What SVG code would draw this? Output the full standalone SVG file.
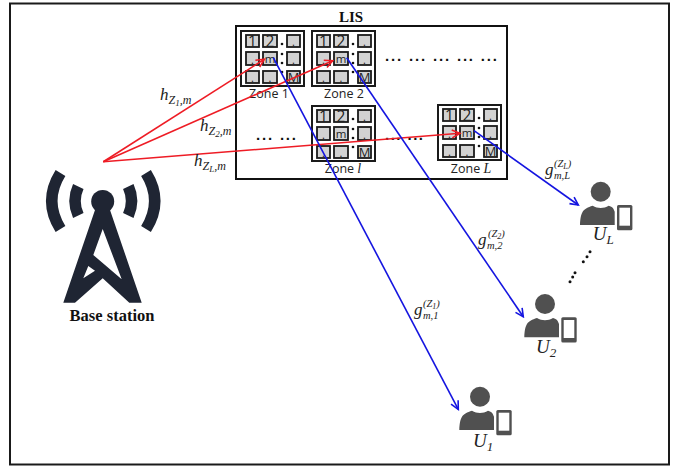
<svg xmlns="http://www.w3.org/2000/svg" width="681" height="466" viewBox="0 0 681 466">
<style>
.zf{fill:#fff;stroke:#1a1a1a;stroke-width:2}
.c{fill:#d2d2d2;stroke:#1a1a1a;stroke-width:1.8}
.ct{font-family:"Open Sans","Liberation Sans",Arial,sans-serif;fill:#222;text-anchor:middle}
.n{font-size:15.5px}.m{font-size:11.5px}.mm{font-size:13px}.d{font-size:11px}
.zd{fill:#111}
.zl{font-family:"Open Sans","Liberation Sans",sans-serif;font-size:12.5px;fill:#222;text-anchor:middle}
.i{font-family:"Liberation Serif",serif;font-style:italic}
.math{font-family:"Liberation Serif",serif;font-style:italic;fill:#222}
.s{font-size:12px}.b{font-size:17px}.ss{font-size:9px}.us{font-size:19px}.usb{font-size:13px}
.gs{font-size:10.5px}.gss{font-size:8px}
.bold{font-family:"Liberation Serif",serif;font-weight:bold;fill:#111}
.dots{font-family:"Liberation Sans",sans-serif;font-weight:bold;font-size:15px;fill:#111}
.red{fill:none;stroke:#ee1c25;stroke-width:1.6;marker-end:url(#ar)}
.blue{fill:none;stroke:#1515e0;stroke-width:1.6;marker-end:url(#ab)}
.u{fill:#505050}
.tower{fill:#1f2533}
.wave{fill:none;stroke:#1f2533;stroke-width:11.5}
</style>
<defs>
<marker id="ar" markerWidth="11" markerHeight="11" refX="9" refY="5" orient="auto" markerUnits="userSpaceOnUse"><path d="M1,1 L9,5 L1,9" fill="none" stroke="#ee1c25" stroke-width="1.6"/></marker>
<marker id="ab" markerWidth="11" markerHeight="11" refX="9" refY="5" orient="auto" markerUnits="userSpaceOnUse"><path d="M1,1 L9,5 L1,9" fill="none" stroke="#1515e0" stroke-width="1.6"/></marker>
</defs>
<rect width="681" height="466" fill="#fff"/>
<rect x="10" y="3.500" width="659" height="461" fill="none" stroke="#1a1a1a" stroke-width="2"/>
<g id="lis">
<rect x="236" y="26" width="271" height="153" fill="#fff" stroke="#111" stroke-width="2"/>
<text class="bold" x="351" y="22" font-size="15" text-anchor="middle">LIS</text>
<text class="dots" x="385" y="61" textLength="112">... ... ... ... ...</text>
<text class="dots" x="256" y="140" textLength="40">... ...</text>
<text class="dots" x="385" y="140" textLength="38">... ...</text>
</g>
<g id="zone-1" transform="translate(241,31)">
<rect class="zf" width="63" height="55"/>
<rect class="c" x="5" y="4" width="13" height="12"/><rect class="c" x="22" y="4" width="14" height="12"/><rect class="c" x="46" y="4" width="13" height="12"/>
<rect class="c" x="5" y="21" width="13" height="13"/><rect class="c" x="22" y="21" width="14" height="13"/><rect class="c" x="46" y="21" width="13" height="13"/>
<rect class="c" x="5" y="40" width="13" height="12"/><rect class="c" x="22" y="40" width="14" height="12"/><rect class="c" x="46" y="40" width="13" height="12"/>
<text class="ct n" x="11.500" y="15.500">1</text><text class="ct n" x="29" y="15.500">2</text><text class="ct d" x="52.500" y="15">.</text>
<text class="ct d" x="11.500" y="33">.</text><text class="ct m" x="29" y="31.500">m</text><text class="ct d" x="52.500" y="33">.</text>
<text class="ct d" x="11.500" y="51">.</text><text class="ct d" x="29" y="51">.</text><text class="ct mm" x="52.500" y="51">M</text>
<circle class="zd" cx="41" cy="13" r="1.300"/><circle class="zd" cx="41" cy="23" r="1.300"/><circle class="zd" cx="41" cy="32" r="1.300"/><circle class="zd" cx="41" cy="41" r="1.300"/>
<text class="zl" x="28" y="67">Zone 1</text>
</g>
<g id="zone-2" transform="translate(312,31)">
<rect class="zf" width="63" height="55"/>
<rect class="c" x="5" y="4" width="13" height="12"/><rect class="c" x="22" y="4" width="14" height="12"/><rect class="c" x="46" y="4" width="13" height="12"/>
<rect class="c" x="5" y="21" width="13" height="13"/><rect class="c" x="22" y="21" width="14" height="13"/><rect class="c" x="46" y="21" width="13" height="13"/>
<rect class="c" x="5" y="40" width="13" height="12"/><rect class="c" x="22" y="40" width="14" height="12"/><rect class="c" x="46" y="40" width="13" height="12"/>
<text class="ct n" x="11.500" y="15.500">1</text><text class="ct n" x="29" y="15.500">2</text><text class="ct d" x="52.500" y="15">.</text>
<text class="ct d" x="11.500" y="33">.</text><text class="ct m" x="29" y="31.500">m</text><text class="ct d" x="52.500" y="33">.</text>
<text class="ct d" x="11.500" y="51">.</text><text class="ct d" x="29" y="51">.</text><text class="ct mm" x="52.500" y="51">M</text>
<circle class="zd" cx="41" cy="13" r="1.300"/><circle class="zd" cx="41" cy="23" r="1.300"/><circle class="zd" cx="41" cy="32" r="1.300"/><circle class="zd" cx="41" cy="41" r="1.300"/>
<text class="zl" x="32" y="67">Zone 2</text>
</g>
<g id="zone-l" transform="translate(312,106)">
<rect class="zf" width="63" height="55"/>
<rect class="c" x="5" y="4" width="13" height="12"/><rect class="c" x="22" y="4" width="14" height="12"/><rect class="c" x="46" y="4" width="13" height="12"/>
<rect class="c" x="5" y="21" width="13" height="13"/><rect class="c" x="22" y="21" width="14" height="13"/><rect class="c" x="46" y="21" width="13" height="13"/>
<rect class="c" x="5" y="40" width="13" height="12"/><rect class="c" x="22" y="40" width="14" height="12"/><rect class="c" x="46" y="40" width="13" height="12"/>
<text class="ct n" x="11.500" y="15.500">1</text><text class="ct n" x="29" y="15.500">2</text><text class="ct d" x="52.500" y="15">.</text>
<text class="ct d" x="11.500" y="33">.</text><text class="ct m" x="29" y="31.500">m</text><text class="ct d" x="52.500" y="33">.</text>
<text class="ct d" x="11.500" y="51">.</text><text class="ct d" x="29" y="51">.</text><text class="ct mm" x="52.500" y="51">M</text>
<circle class="zd" cx="41" cy="13" r="1.300"/><circle class="zd" cx="41" cy="23" r="1.300"/><circle class="zd" cx="41" cy="32" r="1.300"/><circle class="zd" cx="41" cy="41" r="1.300"/>
<text class="zl" x="31" y="67">Zone <tspan class="i" font-size="14">l</tspan></text>
</g>
<g id="zone-L" transform="translate(438,105)">
<rect class="zf" width="63" height="55"/>
<rect class="c" x="5" y="4" width="13" height="12"/><rect class="c" x="22" y="4" width="14" height="12"/><rect class="c" x="46" y="4" width="13" height="12"/>
<rect class="c" x="5" y="21" width="13" height="13"/><rect class="c" x="22" y="21" width="14" height="13"/><rect class="c" x="46" y="21" width="13" height="13"/>
<rect class="c" x="5" y="40" width="13" height="12"/><rect class="c" x="22" y="40" width="14" height="12"/><rect class="c" x="46" y="40" width="13" height="12"/>
<text class="ct n" x="11.500" y="15.500">1</text><text class="ct n" x="29" y="15.500">2</text><text class="ct d" x="52.500" y="15">.</text>
<text class="ct d" x="11.500" y="33">.</text><text class="ct m" x="29" y="31.500">m</text><text class="ct d" x="52.500" y="33">.</text>
<text class="ct d" x="11.500" y="51">.</text><text class="ct d" x="29" y="51">.</text><text class="ct mm" x="52.500" y="51">M</text>
<circle class="zd" cx="41" cy="13" r="1.300"/><circle class="zd" cx="41" cy="23" r="1.300"/><circle class="zd" cx="41" cy="32" r="1.300"/><circle class="zd" cx="41" cy="41" r="1.300"/>
<text class="zl" x="33" y="68">Zone <tspan class="i" font-size="14">L</tspan></text>
</g>
<g id="base-station">
<path class="wave" d="M60.500,173 Q43,201 60.500,229"/>
<path class="wave" d="M78.300,186.500 Q71.700,201 78.300,215.500"/>
<path class="wave" d="M146,173 Q163.500,201 146,229"/>
<path class="wave" d="M128.300,186.500 Q134.900,201 128.300,215.500"/>
<circle class="tower" cx="102.700" cy="201.500" r="11.500"/>
<path class="tower" fill-rule="evenodd" d="M95,210 L63.300,302.700 L75,302.700 L102.700,278.300 L129.300,302.700 L141.700,302.700 L110,210 Z M102.700,229 L93.300,255 L121.700,279.300 Z M88.300,266 L83.300,278.300 L95,270.700 Z"/>
<text class="bold" x="112" y="321" font-size="16.500" text-anchor="middle">Base station</text>
</g>
<g id="connectors">
<path class="red" d="M103.300,161.700 L264.300,59.300"/>
<path class="red" d="M103.300,161.700 L332.700,60.700"/>
<path class="red" d="M103.300,161.700 L460,133.300"/>
<path class="blue" d="M273.300,57.700 L458.300,409.300"/>
<path class="blue" d="M346.700,57.700 L523.300,316.700"/>
<path class="blue" d="M474,130.700 L578.300,205"/>
</g>
<g id="labels">
<text class="math" x="160" y="100"><tspan class="b">h</tspan><tspan class="s" dy="4">Z</tspan><tspan class="ss" dy="2">1</tspan><tspan class="s" dy="-2">,m</tspan></text>
<text class="math" x="200" y="131"><tspan class="b">h</tspan><tspan class="s" dy="4">Z</tspan><tspan class="ss" dy="2">2</tspan><tspan class="s" dy="-2">,m</tspan></text>
<text class="math" x="194" y="166"><tspan class="b">h</tspan><tspan class="s" dy="4">Z</tspan><tspan class="ss" dy="2">L</tspan><tspan class="s" dy="-2">,m</tspan></text>
<text class="math b" x="545" y="175">g</text><text class="math gs" x="554" y="179">m,L</text><text class="math gs" x="554" y="167">(Z<tspan class="gss" dy="2">L</tspan><tspan dy="-2">)</tspan></text>
<text class="math b" x="478" y="245">g</text><text class="math gs" x="487" y="249">m,2</text><text class="math gs" x="488" y="237">(Z<tspan class="gss" dy="2">2</tspan><tspan dy="-2">)</tspan></text>
<text class="math b" x="414" y="315">g</text><text class="math gs" x="423" y="319">m,1</text><text class="math gs" x="423" y="307">(Z<tspan class="gss" dy="2">1</tspan><tspan dy="-2">)</tspan></text>
</g>
<g id="user-1" transform="translate(480,396.700)">
<circle class="u" r="10"/>
<path class="u" d="M-20.700,33.300 C-20,20 -18,17 -8,14 C-3,17 3,17 8,14 C12,15 13,17 14,20 L14,33.300 Z"/>
<rect class="u" x="16.300" y="13.300" width="15.400" height="25.300" rx="1.500"/>
<rect x="18.700" y="16" width="10.600" height="18" fill="#fff"/>
<text class="math us" x="-7" y="50">U<tspan class="usb" dy="4">1</tspan></text>
</g>
<g id="user-2" transform="translate(545,304)">
<circle class="u" r="10"/>
<path class="u" d="M-20.700,33.300 C-20,20 -18,17 -8,14 C-3,17 3,17 8,14 C12,15 13,17 14,20 L14,33.300 Z"/>
<rect class="u" x="16.300" y="13.300" width="15.400" height="25.300" rx="1.500"/>
<rect x="18.700" y="16" width="10.600" height="18" fill="#fff"/>
<text class="math us" x="-9" y="49">U<tspan class="usb" dy="4">2</tspan></text>
</g>
<g id="user-L" transform="translate(600.700,191.700)">
<circle class="u" r="10"/>
<path class="u" d="M-20.700,33.300 C-20,20 -18,17 -8,14 C-3,17 3,17 8,14 C12,15 13,17 14,20 L14,33.300 Z"/>
<rect class="u" x="16.300" y="13.300" width="15.400" height="25.300" rx="1.500"/>
<rect x="18.700" y="16" width="10.600" height="18" fill="#fff"/>
<text class="math us" x="-8" y="48.500">U<tspan class="usb" dy="4">L</tspan></text>
</g>
<g id="user-dots" fill="#111">
<circle cx="590" cy="251.700" r="1.500"/><circle cx="587" cy="256.700" r="1.500"/><circle cx="583.300" cy="261.700" r="1.500"/>
<circle cx="575" cy="272.700" r="1.500"/><circle cx="572.700" cy="277" r="1.500"/><circle cx="570" cy="281.700" r="1.500"/>
</g>
</svg>
